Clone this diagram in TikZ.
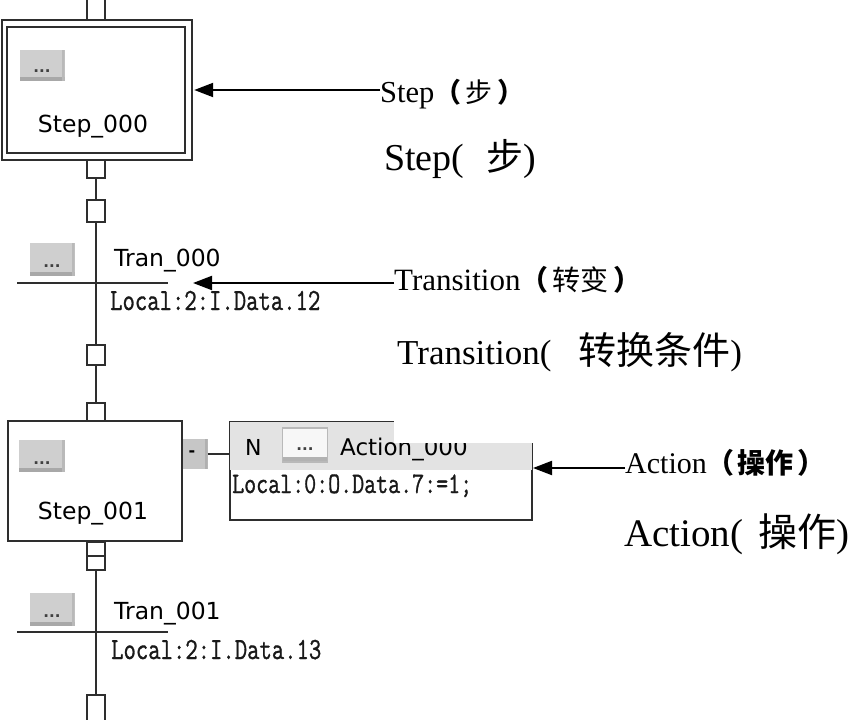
\documentclass[tikz,border=0pt]{standalone}
\usepackage{fontspec}
\usepackage{graphicx}
\usetikzlibrary{arrows.meta}
\setmainfont{Liberation Serif}
\newfontfamily\uisans{DejaVu Sans}
\newfontfamily\cjk{Noto Sans CJK SC}
\newfontfamily\codefam{Latin Modern Mono}[FakeBold=1.2]
\newcommand\uifont{\uisans\fontsize{23.5}{28}\selectfont}
\newcommand\codef{\codefam\bfseries\fontsize{24}{28}\selectfont}
\newcommand\codetxt[1]{\scalebox{1}[1.28]{#1}}
\begin{document}
\begin{tikzpicture}[x=1pt,y=-1pt,
  lc/.style={draw=black!82},
  conn/.style={lc, line width=2pt},
  sq/.style={lc, line width=2pt, fill=white, minimum width=18pt, minimum height=20pt, inner sep=0pt},
  stepbox/.style={lc, line width=2.4pt, fill=white, inner sep=0pt},
  btn/.style={fill=gray!38, minimum width=45pt, minimum height=31pt, inner sep=0pt,
    path picture={
      \fill[gray!68] (path picture bounding box.south west) rectangle ([yshift=4pt]path picture bounding box.south east);
      \fill[gray!55] ([xshift=-3pt]path picture bounding box.south east) rectangle (path picture bounding box.north east);
      \node[font=\uisans\bfseries\fontsize{15}{15}\selectfont, inner sep=0pt, text=black!75] at ([yshift=9pt]path picture bounding box.south) {...};
    }},
  uitext/.style={font=\uifont, inner sep=0pt, text=black},
  codetext/.style={font=\codef, inner sep=0pt, text=black!90},
  callsmall/.style={inner sep=0pt, text=black},
  arr/.style={draw=black, line width=2pt, -{Triangle[length=19pt,width=14pt]}},
]
\useasboundingbox (0,0) rectangle (852,720);

% ---- Step_000 ----
\node[sq, minimum height=24pt] (q0) at (96,8) {};
\node[stepbox, minimum width=190pt, minimum height=140pt] (s0) at (97,90) {};
\node[lc, line width=2.4pt, minimum width=178pt, minimum height=126pt, inner sep=0pt] (s0in) at (96,90) {};
\node[btn] (b0) at (42,65) {};
\node[uitext, anchor=base] (s0name) at (93,132) {Step\_000};
\node[sq, minimum height=18pt] (q1) at (96,169) {};
\node[sq, minimum height=22pt] (q2) at (96,211) {};

% ---- Tran_000 ----
\coordinate (t0w) at (17,283);
\coordinate (t0e) at (168,283);
\node[sq] (q3) at (96,355) {};
\node[sq, minimum height=18pt] (q4) at (96,412) {};
\draw[conn] (q1.south) -- (q2.north);
\draw[conn] (q2.south) -- (q3.north);
\draw[conn] (q3.south) -- (q4.north);
\draw[conn, line width=2.2pt] (t0w) -- (t0e);
\node[btn, minimum height=33pt] (b1) at (52,259) {};
\node[uitext, anchor=base west] (t0name) at (114,266) {Tran\_000};
\node[codetext, anchor=base west] (t0cond) at (110,310) {\codetxt{Local:2:I.Data.12}};

% ---- Step_001 ----
\node[stepbox, line width=2.2pt, minimum width=174pt, minimum height=120pt] (s1) at (95,481) {};
\node[btn, minimum width=46pt, minimum height=32pt] (b2) at (42,456) {};
\node[uitext, anchor=base] (s1name) at (93,519) {Step\_001};
\node[lc, line width=2pt, fill=white, minimum width=18pt, minimum height=28pt, inner sep=0pt] (q5) at (96,556) {};
\draw[conn] (q5.west) -- (q5.east);

% ---- qualifier and action ----
\node[fill=gray!45, minimum width=25pt, minimum height=30pt, inner sep=0pt,
  path picture={\fill[gray!62] ([xshift=-3pt]path picture bounding box.south east) rectangle (path picture bounding box.north east);}] (qual) at (195,454) {};
\node[font=\uisans\bfseries\fontsize{16}{16}\selectfont, inner sep=0pt] (qualtxt) at (192,454) {-};
\node[lc, line width=2pt, fill=white, minimum width=302pt, minimum height=98pt, inner sep=0pt] (act) at (381,471) {};
\fill[gray!22] ([xshift=1pt,yshift=-1pt]act.north west) rectangle ([xshift=-1pt]act.north east |- 0,470);
\node[fill=gray!6, draw=gray!55, line width=1.5pt, minimum width=45pt, minimum height=34pt, inner sep=0pt,
  path picture={\fill[gray!60] (path picture bounding box.south west) rectangle ([yshift=5pt]path picture bounding box.south east);}] (b3) at (305,445) {};
\node[font=\uisans\bfseries\fontsize{15}{15}\selectfont, inner sep=0pt, text=black!75] at (305,449) {...};
\node[uitext, font=\uisans\fontsize{22}{26}\selectfont, anchor=base west] (qN) at (245,455) {N};
\node[uitext, font=\uisans\fontsize{23}{26}\selectfont, anchor=base west] (aname) at (340,455) {Action\_000};
\fill[white] (394,414) rectangle (541,443);
\draw[conn] (qual.east) -- (qual.east -| act.west);
\node[codetext, font=\codefam\bfseries\fontsize{23.3}{28}\selectfont, anchor=base west] (acond) at (232,493) {\codetxt{Local:0:O.Data.7:=1;}};

% ---- Tran_001 ----
\coordinate (t1w) at (17,632);
\coordinate (t1e) at (168,632);
\node[sq, minimum height=26pt] (q6) at (96,708) {};
\draw[conn] (q5.south) -- (q6.north);
\draw[conn, line width=2.2pt] (t1w) -- (t1e);
\node[btn, minimum height=33pt] (b4) at (52,609) {};
\node[uitext, anchor=base west] (t1name) at (114,619) {Tran\_001};
\node[codetext, anchor=base west] (t1cond) at (111,659) {\codetxt{Local:2:I.Data.13}};

% ---- callouts ----
\node[callsmall, anchor=base west, font=\fontsize{30.5}{34}\selectfont] (cs0) at (380,102)
  {Step{\cjk\fontsize{27}{30}\selectfont\bfseries （\hspace{4pt}\mdseries 步\hspace{5pt}\bfseries ）}};
\node[callsmall, anchor=base west, font=\fontsize{38}{42}\selectfont] (cl0) at (384,170)
  {Step(\hspace{22pt}{\cjk\fontsize{37}{40}\selectfont 步})};
\node[callsmall, anchor=base west, font=\fontsize{31}{34}\selectfont] (cs1) at (394,290)
  {Transition{\cjk\fontsize{28}{30}\selectfont\bfseries （\hspace{4pt}\mdseries 转变\hspace{5pt}\bfseries ）}};
\node[callsmall, anchor=base west, font=\fontsize{35}{40}\selectfont] (cl1) at (397,364)
  {Transition(\hspace{27pt}{\cjk\fontsize{38}{40}\selectfont 转换条件})};
\node[callsmall, anchor=base west, font=\fontsize{30}{34}\selectfont] (cs2) at (625,473)
  {Action{\cjk\fontsize{28}{30}\selectfont\bfseries （\hspace{3pt}操作\hspace{4pt}）}};
\node[callsmall, anchor=base west, font=\fontsize{39}{42}\selectfont] (cl2) at (624,546)
  {Action(\hspace{15pt}{\cjk\fontsize{39}{42}\selectfont 操作})};

\coordinate (t0tip) at (193,283);
\draw[arr] (cs0.west |- s0.east) -- ([xshift=1pt]s0.east);
\draw[arr] (cs1.west |- t0tip) -- (t0tip);
\draw[arr] ([yshift=3pt]cs2.west |- act.east) -- ([yshift=3pt]act.east);
\end{tikzpicture}
\end{document}
